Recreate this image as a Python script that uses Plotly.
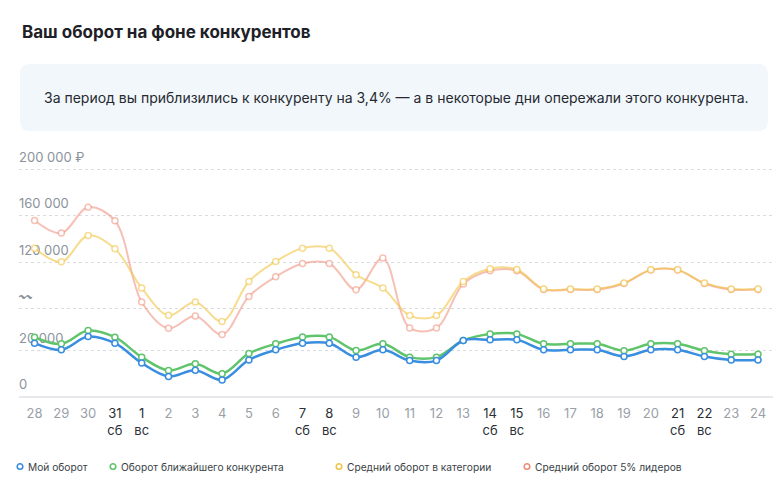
import numpy as np
import plotly.graph_objects as go

# ---------------- data ----------------
days = ["28", "29", "30", "31", "1", "2", "3", "4", "5", "6", "7", "8", "9", "10",
        "11", "12", "13", "14", "15", "16", "17", "18", "19", "20", "21", "22", "23", "24"]
weekdays = {"31": "сб", "1": "вс", "7": "сб", "8": "вс",
            "14": "сб", "15": "вс", "21": "сб", "22": "вс"}

my_turnover = [27700, 20200, 35300, 27700, 14300, 8500, 11200, 7000, 15700, 20200,
               27700, 27700, 16900, 20200, 15400, 15400, 30800, 31600, 31600, 20200,
               20200, 20200, 17200, 20200, 20200, 17200, 15700, 15700]
competitor = [34500, 27000, 42100, 34500, 16900, 11100, 14000, 9700, 18500, 27000,
              34900, 34900, 19800, 27000, 16900, 16900, 30800, 38300, 38300, 27000,
              27000, 27000, 19700, 27000, 27000, 19700, 18200, 18200]
category_avg = [131800, 120200, 142600, 131200, 90400, 59400, 74600, 52300, 97900, 120400,
                131800, 131800, 105500, 90400, 59100, 59100, 97900, 112300, 111500, 89200,
                89200, 89200, 96100, 111200, 111200, 96100, 89200, 89200]
leaders_avg = [155300, 144600, 166700, 155100, 74600, 44700, 58700, 37600, 80900, 103200,
               118300, 118300, 88500, 123300, 45100, 45100, 95000, 110000, 110000, 88700,
               88700, 88700, 95600, 110800, 110800, 95600, 88700, 88700]

y_tick_values = [0, 20000, 67000, 120000, 160000, 200000]
y_tick_text = ["0", "20 000", "〰", "120 000", "160 000", "200 000 ₽"]

series_names = ["Мой оборот", "Оборот ближайшего конкурента",
                "Средний оборот в категории", "Средний оборот 5% лидеров"]

# ---------------- broken (piecewise) axis scale ----------------
_knots_v = [0, 20000, 120000, 160000, 200000]
_knots_d = [0, 46, 134, 181, 227]


def scale(v):
    return np.interp(np.asarray(v, dtype=float), _knots_v, _knots_d)


# ---------------- geometry helpers ----------------
OFF = 8  # page body margin
W, H = 783 - OFF, 491 - OFF
ML, MR, MT, MB = 11, 10, 156, 95
PW, PH = W - ML - MR, H - MT - MB
YTOP = PH  # 1 display unit == 1 px
XR = [-0.58, 27.56]
LABEL_LIFT = 4  # px the y labels sit higher


def px(x):
    return (x - OFF - ML) / PW


def py(y):
    return (H - MB - (y - OFF)) / PH


COL_BLUE = "#3a8ee0"
COL_GREEN = "#5fc46c"
COL_YEL = "rgba(242,196,70,0.6)"
COL_PINK = "rgba(238,140,120,0.55)"

xs = list(range(len(days)))

fig = go.Figure()

# y-axis labels (drawn first so the lines pass over them)
fig.add_trace(go.Scatter(
    x=[XR[0]] * len(y_tick_values), y=scale(y_tick_values) + LABEL_LIFT, mode="text",
    text=y_tick_text, textposition="top right",
    textfont=dict(size=13, color="#8c929b"),
    showlegend=False, hoverinfo="skip", cliponaxis=False,
))

traces = [
    (leaders_avg, COL_PINK, 2),
    (category_avg, COL_YEL, 2),
    (competitor, COL_GREEN, 2.5),
    (my_turnover, COL_BLUE, 2.5),
]
for vals, col, w in traces:
    fig.add_trace(go.Scatter(
        x=xs, y=scale(vals), mode="lines+markers",
        line=dict(color=col, width=w, shape="spline", smoothing=1),
        marker=dict(size=6, color="white", line=dict(color=col, width=1.5)),
        showlegend=False, hoverinfo="skip",
    ))

tick_text = []
for d in days:
    if d in weekdays:
        tick_text.append(f"<span style='color:#2b2f36'>{d}</span><br>"
                         f"<span style='color:#2b2f36'>{weekdays[d]}</span>")
    else:
        tick_text.append(d)

fig.update_xaxes(
    range=XR, tickvals=xs, ticktext=tick_text,
    tickfont=dict(size=13, color="#9aa0a8"),
    showgrid=False, zeroline=False,
    showline=True, linecolor="#e6e8ec", linewidth=2,
    ticks="", ticklabelstandoff=4,
)
fig.update_yaxes(
    range=[0, YTOP], tickvals=list(scale(y_tick_values)), showticklabels=False,
    showgrid=True, gridcolor="#d9dce1", griddash="dot", gridwidth=1,
    zeroline=False, showline=False, ticks="",
)

shapes = []
annotations = []

# title
annotations.append(dict(
    xref="paper", yref="paper", x=px(20), y=py(32), xanchor="left", yanchor="middle",
    text="Ваш оборот на фоне конкурентов", showarrow=False,
    font=dict(size=17, color="#1d2127", weight=700),
))

# info box
bx0, bx1, by0, by1, r = 20, 768, 64, 131, 10
path = (f"M {px(bx0 + r)},{py(by0)} L {px(bx1 - r)},{py(by0)} "
        f"Q {px(bx1)},{py(by0)} {px(bx1)},{py(by0 + r)} "
        f"L {px(bx1)},{py(by1 - r)} Q {px(bx1)},{py(by1)} {px(bx1 - r)},{py(by1)} "
        f"L {px(bx0 + r)},{py(by1)} Q {px(bx0)},{py(by1)} {px(bx0)},{py(by1 - r)} "
        f"L {px(bx0)},{py(by0 + r)} Q {px(bx0)},{py(by0)} {px(bx0 + r)},{py(by0)} Z")
shapes.append(dict(type="path", xref="paper", yref="paper", path=path,
                   fillcolor="#f2f7fc", line=dict(width=0), layer="below"))
annotations.append(dict(
    xref="paper", yref="paper", x=px(42), y=py(98), xanchor="left", yanchor="middle",
    text="За период вы приблизились к конкуренту на 3,4% — а в некоторые дни опережали этого конкурента.",
    showarrow=False, font=dict(size=14, color="#262a30"),
))

# legend
legend_cols = ["#3a8ee0", "#5fc46c", "#f2c446", "#ee8c78"]
legend_x = [20, 113, 339, 527]
for name, col, lx in zip(series_names, legend_cols, legend_x):
    shapes.append(dict(
        type="circle", xref="paper", yref="paper", xsizemode="pixel", ysizemode="pixel",
        xanchor=px(lx), yanchor=py(466.5), x0=-2.8, x1=2.8, y0=-2.8, y1=2.8,
        fillcolor="white", line=dict(color=col, width=1.6),
    ))
    annotations.append(dict(
        xref="paper", yref="paper", x=px(lx + 6), y=py(466.5), xanchor="left",
        yanchor="middle", text=name, showarrow=False,
        font=dict(size=10.2, color="#3a3f47"),
    ))

fig.update_layout(
    width=W, height=H, margin=dict(l=ML, r=MR, t=MT, b=MB),
    paper_bgcolor="white", plot_bgcolor="white",
    font=dict(family="Inter, 'Noto Sans', sans-serif"),
    shapes=shapes, annotations=annotations, showlegend=False,
)

fig.write_html("out.html")
